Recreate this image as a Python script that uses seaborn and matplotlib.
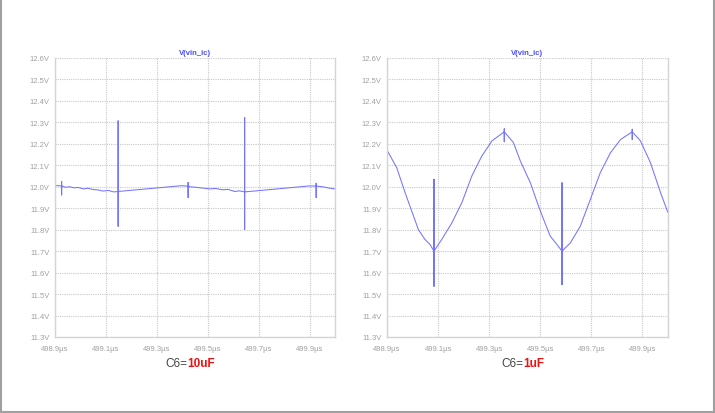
import seaborn as sns
import matplotlib.pyplot as plt
import matplotlib.lines as mlines
import pandas as pd
import numpy as np

# V(vin_ic) traces (time in us, volts)
# repeated times are the switching spikes drawn as vertical strokes
left_t = [498.9, 498.926, 498.926, 498.926, 498.926, 498.94, 498.959, 498.975, 498.99,
          499.011, 499.03, 499.05, 499.07, 499.089, 499.11, 499.13,
          499.148, 499.148, 499.148, 499.148, 499.397,
          499.423, 499.423, 499.423, 499.423, 499.43, 499.45, 499.48, 499.508,
          499.53, 499.56, 499.58, 499.606, 499.625,
          499.645, 499.645, 499.645, 499.645, 499.9,
          499.926, 499.926, 499.926, 499.926, 499.952, 499.975, 500.0]
left_v = [12.006, 12.004, 12.025, 11.962, 12.004, 11.998, 12.0, 11.995, 11.997,
          11.990, 11.993, 11.987, 11.985, 11.980, 11.983, 11.976,
          11.978, 12.307, 11.816, 11.978, 12.005,
          12.003, 12.02, 11.95, 12.003, 12.0, 11.998, 11.994, 11.990,
          11.992, 11.986, 11.988, 11.978, 11.981,
          11.976, 12.323, 11.801, 11.976, 12.004,
          12.003, 12.016, 11.95, 12.003, 12.0, 11.994, 11.99]

right_t = [498.9, 498.938, 498.971, 498.997, 499.023, 499.049, 499.069,
           499.084, 499.084, 499.084, 499.084, 499.114, 499.154, 499.193, 499.232,
           499.271, 499.311, 499.359, 499.359, 499.359, 499.359, 499.395, 499.422,
           499.461, 499.493, 499.513, 499.539, 499.566,
           499.585, 499.585, 499.585, 499.585, 499.618, 499.657, 499.696, 499.735,
           499.775, 499.814, 499.86, 499.86, 499.86, 499.86, 499.892, 499.931,
           499.971, 500.0]
right_v = [12.171, 12.089, 11.972, 11.886, 11.80, 11.754, 11.73,
           11.70, 12.035, 11.536, 11.70, 11.754, 11.832, 11.926, 12.05,
           12.143, 12.214, 12.256, 12.27, 12.21, 12.256, 12.206, 12.12,
           12.019, 11.91, 11.848, 11.77, 11.73,
           11.70, 12.019, 11.544, 11.70, 11.739, 11.817, 11.941, 12.066,
           12.159, 12.22, 12.256, 12.268, 12.22, 12.256, 12.214, 12.113,
           11.972, 11.879]

y_ticks = [11.3, 11.4, 11.5, 11.6, 11.7, 11.8, 11.9, 12.0, 12.1, 12.2, 12.3, 12.4, 12.5, 12.6]
y_tick_labels = [f"{v:.1f}V" for v in y_ticks]
x_ticks = [498.9, 499.1, 499.3, 499.5, 499.7, 499.9]
x_tick_labels = ["498.9\u00b5s", "499.1\u00b5s", "499.3\u00b5s", "499.5\u00b5s", "499.7\u00b5s", "499.9\u00b5s"]

trace_name = "V(vin_ic)"
captions = [("C6=", "10uF"), ("C6=", "1uF")]

sns.set_style("white")
plt.rcParams['font.family'] = ['Liberation Sans', 'DejaVu Sans']

fig = plt.figure(figsize=(7.15, 4.14), dpi=100)
ax_l = fig.add_axes([55 / 715, 1 - 338 / 414, 280 / 715, 279 / 414])
ax_r = fig.add_axes([387 / 715, 1 - 338 / 414, 281 / 715, 279 / 414])

grid_col = '#c8c8c8'
tick_col = '#a0a0a0'

for ax, t, v in [(ax_l, left_t, left_v), (ax_r, right_t, right_v)]:
    df = pd.DataFrame({'t': t, 'v': v})
    sns.lineplot(data=df, x='t', y='v', ax=ax, sort=False, estimator=None,
                 color='#7474ff', linewidth=0.75)
    ax.set_xlim(498.9, 500.0)
    ax.set_ylim(11.3, 12.6)
    ax.set_yticks(y_ticks)
    ax.set_yticklabels(y_tick_labels)
    ax.set_xticks(x_ticks)
    ax.set_xticklabels(x_tick_labels)
    ax.set_xlabel('')
    ax.set_ylabel('')
    ax.tick_params(axis='both', labelsize=5.5, colors=tick_col, length=2, width=0.6, pad=2)
    ax.tick_params(axis='x', pad=4)
    ax.grid(True, color=grid_col, linestyle=(0, (1, 1)), linewidth=0.8)
    ax.set_axisbelow(True)
    for side in ['left', 'right', 'bottom']:
        ax.spines[side].set_color('#d4d4d4')
        ax.spines[side].set_linewidth(1.0)
    ax.spines['top'].set_visible(False)
    ax.set_title(trace_name, fontsize=5.5, fontweight='bold', color='#4a4aff', pad=3)

# captions under each panel: grey "C6=" + red bold value
for (lab, val), xc in zip(captions, [187.5 / 715, 523.5 / 715]):
    fig.text(xc, 1 - 364 / 414, lab, ha='right', va='center', fontsize=8.5, color='#444444')
    fig.text(xc, 1 - 364 / 414, val, ha='left', va='center', fontsize=8.5,
             color='#ee1111', fontweight='bold')

# grey frame on left, right and bottom edges
for xs, ys in [([0.001, 0.001], [0, 1]), ([0.998, 0.998], [0, 1]), ([0, 1], [0.003, 0.003])]:
    fig.add_artist(mlines.Line2D(xs, ys, color='#a0a0a0', linewidth=1.5, transform=fig.transFigure))

plt.savefig('out.png', dpi=100)
